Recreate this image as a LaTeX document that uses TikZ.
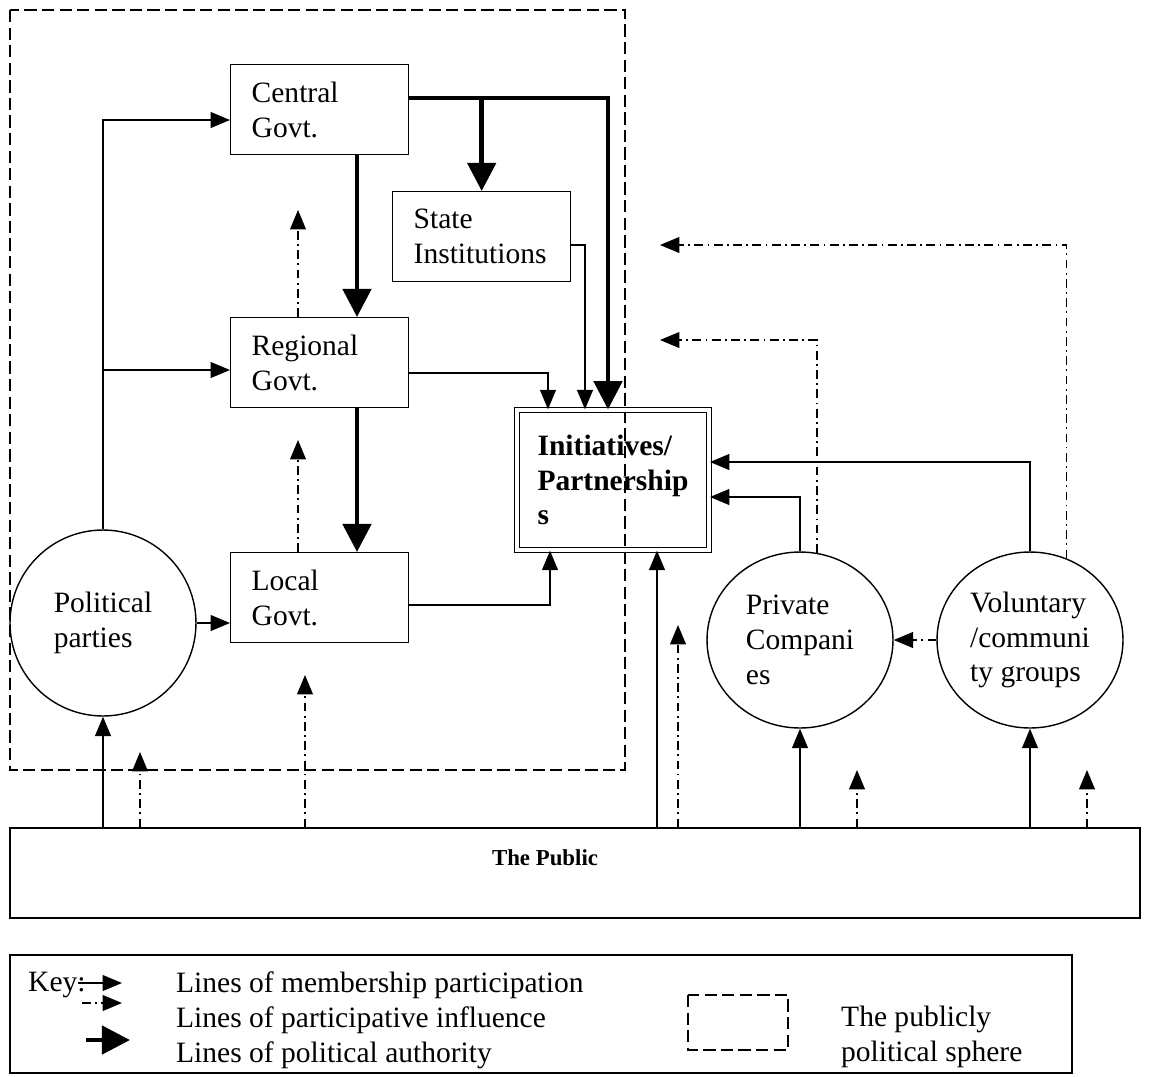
\documentclass[tikz,border=0pt]{standalone}
\usepackage{fontspec}
\setmainfont{Liberation Serif}
\usetikzlibrary{arrows.meta,shapes.geometric}

\tikzset{
  member/.style={line width=0.8pt, -{Triangle[length=11pt,width=9pt]}},
  influence/.style={member, dash pattern=on 5pt off 2.5pt on 1pt off 2.5pt},
  authority/.style={line width=2.6pt, -{Triangle[length=16pt,width=16pt]}},
  sphere/.style={line width=0.8pt, dash pattern=on 7pt off 3pt},
  body/.style={font=\fontsize{16.8}{19.8}\selectfont},
  govbox/.style={draw, line width=0.8pt, anchor=north west, minimum height=1.8cm,
    text width=2.72cm, inner xsep=0.42cm, align=left},
  roundbox/.style={draw, line width=0.8pt, align=left},
}

\begin{document}
\begin{tikzpicture}[x=0.02cm, y=0.02cm, every node/.style={body}]
\useasboundingbox (0,0) rectangle (1166,-1076);
% publicly political sphere
\draw[sphere] (10,-10) rectangle (625,-770);
% government
\node[govbox] (central) at (230,-64) {Central\\Govt.};
\node[govbox] (state) at (392,-191) {State\\Institutions};
\node[govbox] (regional) at (230,-317) {Regional\\Govt.};
\node[govbox] (local) at (230,-552) {Local\\Govt.};
\node[draw, double, double distance=2pt, line width=0.8pt, minimum width=3.85cm,
  minimum height=2.8cm, align=left, font=\fontsize{16.8}{19.8}\selectfont\bfseries]
  (init) at (613,-480) {Initiatives/\\Partnership\\s};
% actors
\node[roundbox, circle, minimum size=3.72cm] (parties) at (103,-623) {Political\\parties};
\node[roundbox, ellipse, minimum width=3.72cm, minimum height=3.52cm] (private) at (800,-640) {Private\\Compani\\es};
\node[roundbox, ellipse, minimum width=3.72cm, minimum height=3.52cm] (vol) at (1030,-640) {Voluntary\\/communi\\ty groups};
\node[draw, line width=0.8pt, minimum width=22.6cm, minimum height=1.8cm] (public) at (575,-873) {};
\node[font=\fontsize{13}{15}\selectfont\bfseries] (publab) at (545,-858) {The Public};

% lines of political authority
\coordinate (ctop) at (central.east |- 0,-98);
\draw[authority] (ctop) -| (608,0 |- init.north);
\draw[authority] (ctop -| state.north) -- (state.north);
\draw[authority] (357,0 |- central.south) -- (357,0 |- regional.north);
\draw[authority] (357,0 |- regional.south) -- (357,0 |- local.north);

% lines of membership participation
\draw[member] (parties.north) |- (central.west |- 0,-120);
\draw[member] (parties.north |- 0,-370) -- (regional.west |- 0,-370);
\draw[member] (parties.east) -- (parties.east -| local.west);
\draw[member] (state.east |- 0,-245) -| (585,0 |- init.north);
\draw[member] (regional.east |- 0,-373) -| (548,0 |- init.north);
\draw[member] (local.east |- 0,-605) -| (550,0 |- init.south);
\draw[member] (private.north) |- (init.east |- 0,-497);
\draw[member] (vol.north) |- (init.east |- 0,-462);
\draw[member] (parties.south |- public.north) -- (parties.south);
\draw[member] (657,0 |- public.north) -- (657,0 |- init.south);
\draw[member] (private.south |- public.north) -- (private.south);
\draw[member] (vol.south |- public.north) -- (vol.south);

% lines of participative influence
\coordinate (rctip) at (298,-210);
\coordinate (lrtip) at (298,-440);
\coordinate (pptip) at (140,-752);
\coordinate (lgtip) at (305,-675);
\coordinate (intip) at (678,-625);
\coordinate (pvtip) at (857,-770);
\coordinate (vgtip) at (1087,-770);
\coordinate (pctip) at (660,-340);
\coordinate (vctip) at (660,-245);
\draw[influence] (rctip |- regional.north) -- (rctip);
\draw[influence] (lrtip |- local.north) -- (lrtip);
\draw[influence] (pptip |- public.north) -- (pptip);
\draw[influence] (lgtip |- public.north) -- (lgtip);
\draw[influence] (intip |- public.north) -- (intip);
\draw[influence] (pvtip |- public.north) -- (pvtip);
\draw[influence] (vgtip |- public.north) -- (vgtip);
\draw[influence] (private.79) |- (pctip);
\draw[influence] (vol.66) |- (vctip);
\draw[influence] (vol.west) -- (private.east);

% key
\draw[line width=0.8pt] (10,-955) rectangle (1072,-1073);
\node[anchor=west] (keylab) at (22,-985) {Key:};
\coordinate (k1a) at (78,-983);
\coordinate (k1b) at (122,-983);
\coordinate (k2a) at (82,-1003);
\coordinate (k2b) at (122,-1003);
\coordinate (k3a) at (86,-1040);
\coordinate (k3b) at (130,-1040);
\draw[member] (k1a) -- (k1b);
\draw[influence] (k2a) -- (k2b);
\draw[authority] (k3a) -- (k3b);
\node[anchor=west] (keymem) at (170,-985) {Lines of membership participation};
\node[anchor=west] (keyinf) at (170,-1020) {Lines of participative influence};
\node[anchor=west] (keyaut) at (170,-1055) {Lines of political authority};
\draw[sphere] (688,-995) rectangle (788,-1050);
\node[anchor=west, align=left] (keysph) at (835,-1037) {The publicly\\political sphere};
\end{tikzpicture}
\end{document}
